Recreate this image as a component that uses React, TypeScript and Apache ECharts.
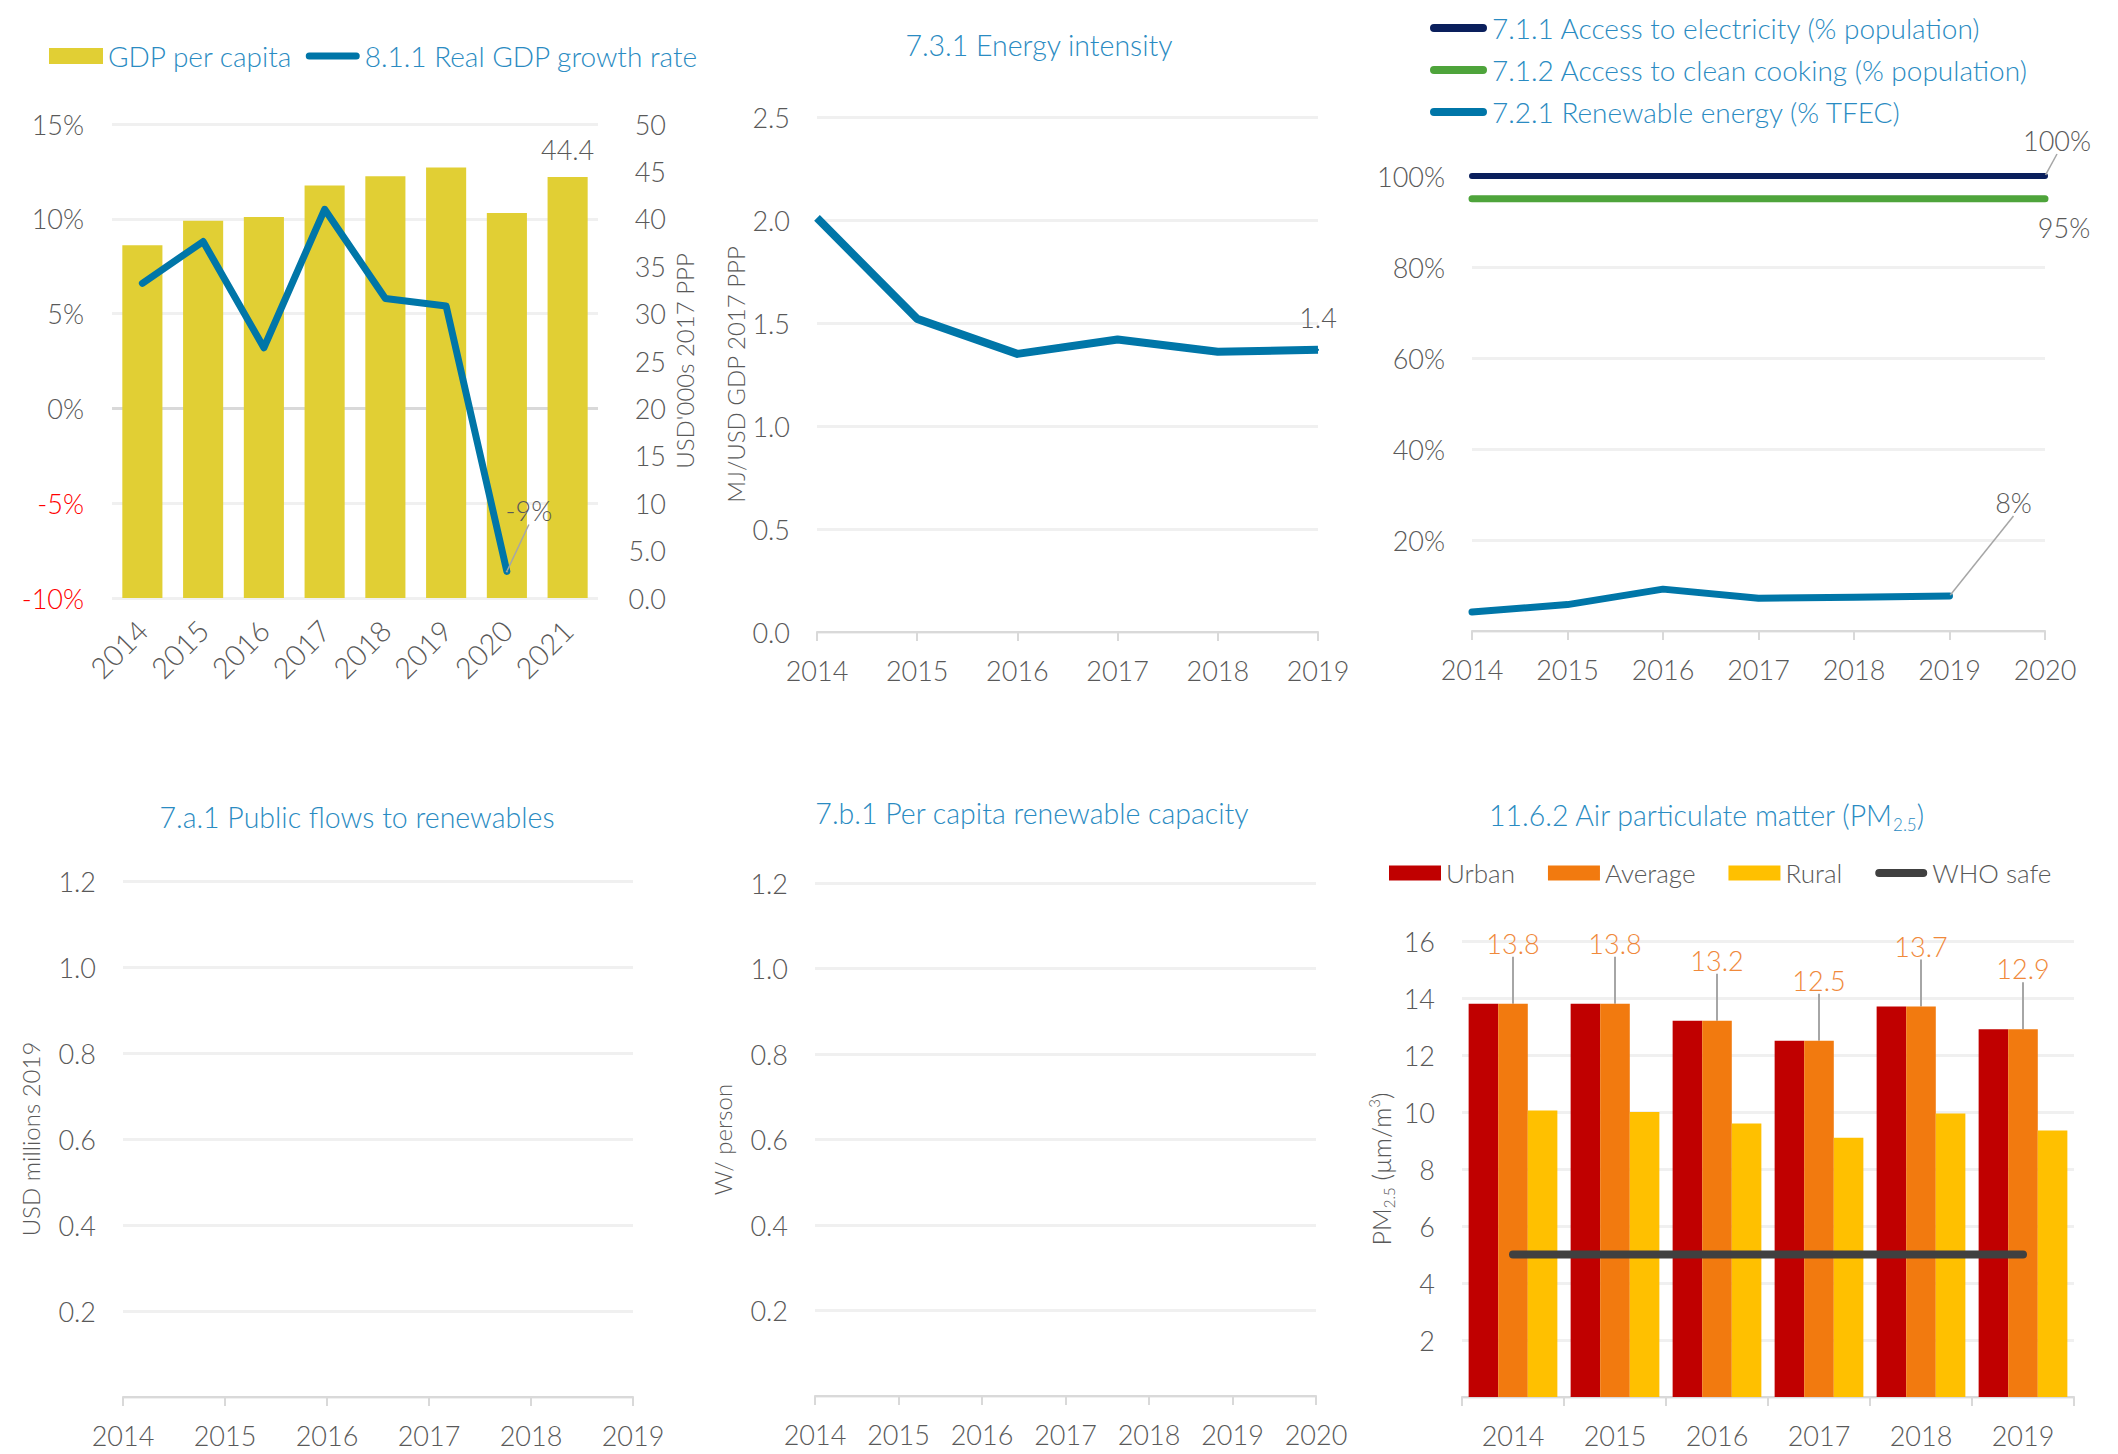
import React, { useEffect, useRef } from 'react';
import * as echarts from 'echarts';

const FONT = 'Lato';
const GRAY = '#595959';
const BLUE_TEXT = '#2A8BC2';
const GRID_LINE = '#F0F0F0';
const AXIS_LINE = '#D9D9D9';
const LEADER = '#A6A6A6';

// Chart 1: GDP per capita & real GDP growth
const gdpYears = ['2014', '2015', '2016', '2017', '2018', '2019', '2020', '2021'];
const gdpPerCapita = [37.2, 39.8, 40.2, 43.5, 44.5, 45.4, 40.6, 44.4];
const gdpGrowth: (number | null)[] = [6.6, 8.8, 3.2, 10.5, 5.8, 5.4, -8.6, null];

// Chart 2: Energy intensity
const eiYears = ['2014', '2015', '2016', '2017', '2018', '2019'];
const energyIntensity = [2.01, 1.52, 1.35, 1.42, 1.36, 1.37];

// Chart 3: Access & renewables
const accessYears = ['2014', '2015', '2016', '2017', '2018', '2019', '2020'];
const electricity = [100, 100, 100, 100, 100, 100, 100];
const cleanCooking = [95, 95, 95, 95, 95, 95, 95];
const renewableShare: (number | null)[] = [4.2, 5.8, 9.2, 7.2, 7.4, 7.7, null];

// Chart 4: Public flows (no data)
const flowYears = ['2014', '2015', '2016', '2017', '2018', '2019'];
const publicFlows: number[] = [];

// Chart 5: Per capita renewable capacity (no data)
const capYears = ['2014', '2015', '2016', '2017', '2018', '2019', '2020'];
const renewableCapacity: number[] = [];

// Chart 6: PM2.5
const pmYears = ['2014', '2015', '2016', '2017', '2018', '2019'];
const pmUrban = [13.8, 13.8, 13.2, 12.5, 13.7, 12.9];
const pmAverage = [13.8, 13.8, 13.2, 12.5, 13.7, 12.9];
const pmRural = [10.05, 10.0, 9.6, 9.1, 9.95, 9.35];
const whoSafe = [5, 5, 5, 5, 5, 5];

// legend icon: a rounded thick line inside a w x h box
const lineIcon = (w: number, h: number, t: number) => {
  const r = t / 2;
  const y0 = (h - t) / 2;
  const y1 = y0 + t;
  return (
    `path://M0,0 L0.01,0 L0.01,0.01 Z ` +
    `M${r},${y0} L${w - r},${y0} A${r},${r} 0 0 1 ${w - r},${y1} L${r},${y1} A${r},${r} 0 0 1 ${r},${y0} Z ` +
    `M${w - 0.01},${h - 0.01} L${w},${h - 0.01} L${w},${h} Z`
  );
};

const catAxis = (gridIndex: number, data: string[], extra: any = {}) => ({
  type: 'category',
  gridIndex,
  data,
  boundaryGap: false,
  axisLine: { show: true, lineStyle: { color: AXIS_LINE, width: 2 } },
  axisTick: { show: true, length: 9, interval: 0, lineStyle: { color: AXIS_LINE, width: 2 } },
  axisLabel: { color: GRAY, fontSize: 27, margin: 25, interval: 0 },
  ...extra,
});

const valAxis = (gridIndex: number, min: number, max: number, interval: number, formatter: any, extra: any = {}) => ({
  type: 'value',
  gridIndex,
  min,
  max,
  interval,
  axisLine: { show: false },
  axisTick: { show: false },
  splitLine: { show: true, lineStyle: { color: GRID_LINE, width: 3 } },
  axisLabel: { color: GRAY, fontSize: 27, margin: 27, formatter },
  nameTextStyle: { color: GRAY, fontSize: 24 },
  ...extra,
});

const lastIndex = (arr: (number | null)[]) => {
  let k = -1;
  arr.forEach((v, i) => { if (v != null) k = i; });
  return k;
};

const withLabelAt = (arr: (number | null)[], idx: number, extra: any = {}) =>
  arr.map((v, i) => (i === idx ? { value: v, symbol: 'circle', symbolSize: 2, label: { show: true }, ...extra } : v));

const titleStyle = { color: BLUE_TEXT, fontSize: 28.5, fontWeight: 300, fontFamily: FONT };

function buildOption(): any {
  const growthIdx = lastIndex(gdpGrowth);
  const renewIdx = lastIndex(renewableShare);
  return {
    animation: false,
    backgroundColor: '#ffffff',
    textStyle: { fontFamily: FONT, fontWeight: 300 },
    title: [
      { text: '7.3.1 Energy intensity', left: 1039, top: 45, textAlign: 'center', textVerticalAlign: 'middle', padding: 0,
        textStyle: titleStyle },
      { text: '7.a.1 Public flows to renewables', left: 357, top: 817, textAlign: 'center', textVerticalAlign: 'middle', padding: 0,
        textStyle: titleStyle },
      { text: '7.b.1 Per capita renewable capacity', left: 1032, top: 813, textAlign: 'center', textVerticalAlign: 'middle', padding: 0,
        textStyle: titleStyle },
      { text: '11.6.2 Air particulate matter (PM{s|2.5})', left: 1706, top: 815, textAlign: 'center', textVerticalAlign: 'middle', padding: 0,
        textStyle: { ...titleStyle, lineHeight: 36,
          rich: { s: { color: BLUE_TEXT, fontSize: 17, fontWeight: 300, fontFamily: FONT, lineHeight: 17, verticalAlign: 'bottom' } } } },
    ],
    legend: [
      {
        data: [
          { name: 'GDP per capita', icon: 'rect' },
          { name: '8.1.1 Real GDP growth rate', icon: lineIcon(54, 16, 7) },
        ],
        left: 49, top: 42, padding: 0, itemWidth: 54, itemHeight: 16, itemGap: 13,
        textStyle: { color: BLUE_TEXT, fontSize: 28, fontWeight: 300, fontFamily: FONT },
      },
      {
        data: [
          { name: '7.1.1 Access to electricity (% population)', icon: lineIcon(57, 14, 8) },
          { name: '7.1.2 Access to clean cooking (% population)', icon: lineIcon(57, 14, 8) },
          { name: '7.2.1 Renewable energy (% TFEC)', icon: lineIcon(57, 14, 8) },
        ],
        orient: 'vertical', left: 1430, top: 14, padding: 0, itemWidth: 57, itemHeight: 14, itemGap: 14,
        textStyle: { color: BLUE_TEXT, fontSize: 28, fontWeight: 300, fontFamily: FONT },
      },
      {
        data: [
          { name: 'Urban', icon: 'rect' },
          { name: 'Average', icon: 'rect' },
          { name: 'Rural', icon: 'rect' },
          { name: 'WHO safe', icon: lineIcon(52, 15, 8) },
        ],
        left: 1389, top: 860, padding: 0, itemWidth: 52, itemHeight: 15, itemGap: 33,
        textStyle: { color: GRAY, fontSize: 26, fontWeight: 300, fontFamily: FONT },
      },
    ],
    grid: [
      { left: 112, top: 124, width: 486, height: 474 },
      { left: 817, top: 117, width: 501, height: 515 },
      { left: 1472, top: 176, width: 573, height: 455 },
      { left: 123, top: 881, width: 510, height: 516 },
      { left: 815, top: 883, width: 501, height: 513 },
      { left: 1462, top: 941, width: 612, height: 456 },
    ],
    xAxis: [
      catAxis(0, gdpYears, {
        boundaryGap: true,
        axisLine: { show: false },
        axisTick: { show: false },
        axisLabel: { color: GRAY, fontSize: 29, margin: 27, rotate: 45, interval: 0 },
      }),
      catAxis(1, eiYears),
      catAxis(2, accessYears),
      catAxis(3, flowYears),
      catAxis(4, capYears),
      catAxis(5, pmYears, {
        boundaryGap: true,
        axisTick: { show: true, length: 9, interval: 0, alignWithLabel: false, lineStyle: { color: AXIS_LINE, width: 2 } },
      }),
    ],
    yAxis: [
      valAxis(0, -10, 15, 5, (v: number) => `${v}%`, {
        axisLabel: { fontSize: 27, margin: 28, formatter: (v: number) => `${v}%`,
          color: (v: any) => (Number(v) < 0 ? '#FF0000' : GRAY) },
        splitLine: { show: true, lineStyle: { color: [GRID_LINE, GRID_LINE, AXIS_LINE, GRID_LINE, GRID_LINE, GRID_LINE], width: 3 } },
      }),
      valAxis(0, 0, 50, 5, (v: number) => (v < 10 ? v.toFixed(1) : String(v)), {
        position: 'right',
        splitLine: { show: false },
        axisLabel: { color: GRAY, fontSize: 27, margin: 68, align: 'right',
          formatter: (v: number) => (v < 10 ? v.toFixed(1) : String(v)) },
        name: "USD'000s 2017 PPP", nameLocation: 'middle', nameRotate: 90, nameGap: 74,
      }),
      valAxis(1, 0, 2.5, 0.5, (v: number) => v.toFixed(1), {
        name: 'MJ/USD GDP 2017 PPP', nameLocation: 'middle', nameRotate: 90, nameGap: 70,
      }),
      valAxis(2, 0, 100, 20, (v: number) => (v === 0 ? '' : `${v}%`)),
      valAxis(3, 0, 1.2, 0.2, (v: number) => (v === 0 ? '' : v.toFixed(1)), {
        name: 'USD millions 2019', nameLocation: 'middle', nameRotate: 90, nameGap: 81,
      }),
      valAxis(4, 0, 1.2, 0.2, (v: number) => (v === 0 ? '' : v.toFixed(1)), {
        name: 'W/ person', nameLocation: 'middle', nameRotate: 90, nameGap: 81,
      }),
      valAxis(5, 0, 16, 2, (v: number) => (v === 0 ? '' : String(v)), {
        name: 'PM{s|2.5} (µm/m{p|3})', nameLocation: 'middle', nameRotate: 90, nameGap: 66,
        nameTextStyle: {
          color: GRAY, fontSize: 25, lineHeight: 30,
          rich: {
            s: { color: GRAY, fontSize: 15, fontFamily: FONT, fontWeight: 300, lineHeight: 15, verticalAlign: 'bottom' },
            p: { color: GRAY, fontSize: 15, fontFamily: FONT, fontWeight: 300, lineHeight: 15, verticalAlign: 'top' },
          },
        },
      }),
    ],
    series: [
      {
        name: 'GDP per capita', type: 'bar', xAxisIndex: 0, yAxisIndex: 1,
        data: gdpPerCapita.map((v, i) => (i === gdpPerCapita.length - 1 ? { value: v, label: { show: true } } : v)),
        barCategoryGap: '34%',
        itemStyle: { color: '#E1CF34' },
        label: { show: false, position: 'top', distance: 14, color: GRAY, fontSize: 27, formatter: (p: any) => Number(p.value).toFixed(1) },
      },
      {
        name: '8.1.1 Real GDP growth rate', type: 'line', xAxisIndex: 0, yAxisIndex: 0,
        data: withLabelAt(gdpGrowth, growthIdx, { itemStyle: { color: LEADER } }),
        symbol: 'none', connectNulls: false,
        lineStyle: { color: '#0076A8', width: 7, cap: 'round', join: 'round' },
        itemStyle: { color: '#0076A8' },
        label: { show: false, position: 'top', color: GRAY, fontSize: 27, formatter: (p: any) => `${Number(p.value).toFixed(0)}%` },
        labelLayout: { dx: 22, dy: -41 },
        labelLine: { show: true, lineStyle: { color: LEADER, width: 1.5 } },
      },
      {
        name: 'Energy intensity', type: 'line', xAxisIndex: 1, yAxisIndex: 2,
        data: withLabelAt(energyIntensity, energyIntensity.length - 1),
        symbol: 'none',
        lineStyle: { color: '#0076A8', width: 8, join: 'round' },
        itemStyle: { color: '#0076A8' },
        label: { show: false, position: 'top', distance: 18, color: GRAY, fontSize: 27, formatter: (p: any) => Number(p.value).toFixed(1) },
      },
      {
        name: '7.1.1 Access to electricity (% population)', type: 'line', xAxisIndex: 2, yAxisIndex: 3,
        data: withLabelAt(electricity, electricity.length - 1),
        symbol: 'none',
        lineStyle: { color: '#0A1F5C', width: 6, cap: 'round' },
        itemStyle: { color: '#0A1F5C' },
        label: { show: false, position: 'top', color: GRAY, fontSize: 27, formatter: (p: any) => `${Math.round(p.value)}%` },
        labelLayout: { dx: 12, dy: -16 },
        labelLine: { show: true, lineStyle: { color: LEADER, width: 1.5 } },
      },
      {
        name: '7.1.2 Access to clean cooking (% population)', type: 'line', xAxisIndex: 2, yAxisIndex: 3,
        data: withLabelAt(cleanCooking, cleanCooking.length - 1),
        symbol: 'none',
        lineStyle: { color: '#4EA43B', width: 7, cap: 'round' },
        itemStyle: { color: '#4EA43B' },
        label: { show: false, position: 'bottom', color: GRAY, fontSize: 27, formatter: (p: any) => `${Math.round(p.value)}%` },
        labelLayout: { dx: 19, dy: 9 },
      },
      {
        name: '7.2.1 Renewable energy (% TFEC)', type: 'line', xAxisIndex: 2, yAxisIndex: 3,
        data: withLabelAt(renewableShare, renewIdx),
        symbol: 'none',
        lineStyle: { color: '#0076A8', width: 7, cap: 'round', join: 'round' },
        itemStyle: { color: '#0076A8' },
        label: { show: false, position: 'top', color: GRAY, fontSize: 27, formatter: (p: any) => `${Math.round(p.value)}%` },
        labelLayout: { dx: 64, dy: -74 },
        labelLine: { show: true, lineStyle: { color: LEADER, width: 1.5 } },
      },
      {
        name: 'Public flows', type: 'line', xAxisIndex: 3, yAxisIndex: 4, data: publicFlows, symbol: 'none',
      },
      {
        name: 'Renewable capacity', type: 'line', xAxisIndex: 4, yAxisIndex: 5, data: renewableCapacity, symbol: 'none',
      },
      {
        name: 'Urban', type: 'bar', xAxisIndex: 5, yAxisIndex: 6, data: pmUrban,
        barGap: '0%', barCategoryGap: '13%',
        itemStyle: { color: '#C00000' },
      },
      {
        name: 'Average', type: 'bar', xAxisIndex: 5, yAxisIndex: 6, data: pmAverage,
        barGap: '0%', barCategoryGap: '13%',
        itemStyle: { color: '#F27A0F' },
        label: { show: true, position: 'top', distance: 5, color: '#F0893A', fontSize: 27, formatter: (p: any) => Number(p.value).toFixed(1) },
        labelLayout: { dy: -42 },
        labelLine: { show: true, lineStyle: { color: LEADER, width: 2 } },
      },
      {
        name: 'Rural', type: 'bar', xAxisIndex: 5, yAxisIndex: 6, data: pmRural,
        barGap: '0%', barCategoryGap: '13%',
        itemStyle: { color: '#FFC000' },
      },
      {
        name: 'WHO safe', type: 'line', xAxisIndex: 5, yAxisIndex: 6, data: whoSafe,
        symbol: 'none',
        lineStyle: { color: '#404040', width: 8, cap: 'round' },
        itemStyle: { color: '#404040' },
        z: 5,
      },
    ],
  };
}

export default function App() {
  const ref = useRef<HTMLDivElement>(null);
  useEffect(() => {
    if (!ref.current) return;
    const chart = echarts.init(ref.current, null, { renderer: 'svg' });
    chart.setOption(buildOption());
    return () => chart.dispose();
  }, []);
  return (
    <div
      ref={ref}
      style={{ position: 'absolute', left: 0, top: 0, width: 2118, height: 1454, background: '#ffffff' }}
    />
  );
}
